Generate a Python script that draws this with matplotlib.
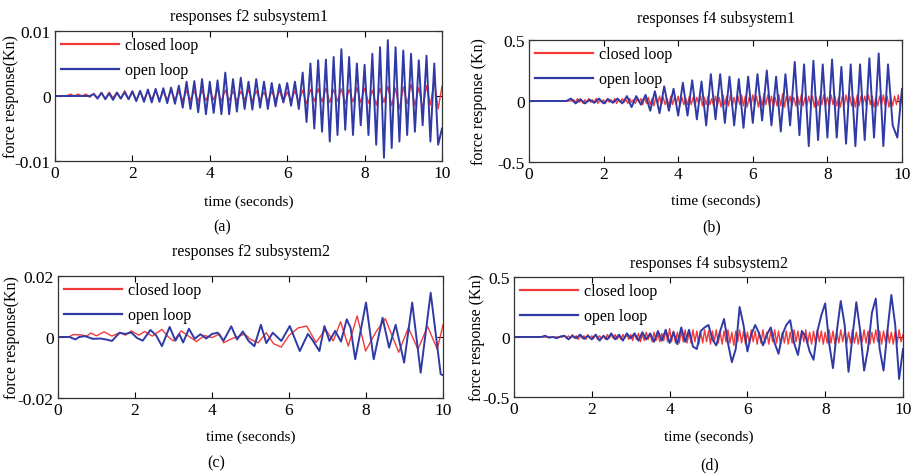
import numpy as np
import matplotlib.pyplot as plt

plt.rcParams['font.family'] = ['Liberation Serif', 'DejaVu Serif']

RED = '#f23a3a'
BLUE = '#2f3aa6'

# sample times (s) of the stored records
t_01 = np.round(np.arange(0, 101) * 0.1, 3)
t_0125 = np.arange(0, 81) * 0.125
t_005 = np.round(np.arange(0, 201) * 0.05, 3)

# f2 subsystem1, values in units of 1e-3 kN, one sample every 0.1 s
a_closed = [0, 0, 0, 0, 0.3, 0, 0.3, 0, 0.3, -0.2,
            0.4, -0.3, 0.5, -0.4, 0.6, -0.3, 0.6, -0.4, 0.8, -0.5,
            0.8, -0.6, 0.7, -0.6, 0.8, -0.5, 0.8, -0.6, 0.7, -0.6,
            0.9, -0.6, 0.7, -0.7, 0.8, -0.6, 0.8, -0.8, 0.9, -0.7,
            0.8, -0.6, 1.0, -0.8, 0.9, -0.7, 0.8, -0.8, 0.7, -0.6,
            0.9, -0.8, 0.8, -0.7, 0.6, -0.8, 0.7, -0.6, 0.8, -0.9,
            0.6, -0.7, 0.8, -1.0, 0.9, -1.2, 1.0, -0.8, 1.1, -0.9,
            1.2, -1.0, 1.0, -0.8, 1.1, -1.2, 1.0, -0.9, 1.3, -1.0,
            1.2, -1.1, 0.9, -1.4, 1.2, -1.0, 1.5, -1.5, 1.2, -2.0,
            1.4, -1.2, 1.8, -1.5, 1.3, -2.0, 1.6, -1.4, 2.5, -2.0, 1.5]
a_open = [0, 0, 0, 0, 0, 0, 0, 0, 0, 0,
          0.3, -0.4, 0.5, -0.5, 0.4, -0.6, 0.5, -0.4, 0.6, -0.5,
          0.7, -0.8, 0.8, -0.9, 1.0, -1.0, 1.1, -0.9, 1.2, -1.1,
          1.3, -1.2, 1.6, -1.8, 2.2, -2.0, 2.3, -2.5, 2.6, -2.8,
          2.2, -2.6, 2.4, -2.8, 3.6, -2.8, 2.6, -2.4, 2.8, -2.0,
          2.2, -2.1, 2.6, -1.8, 2.2, -2.0, 2.0, -1.6, 1.8, -1.0,
          2.0, -1.5, 2.2, -2.0, 3.6, -4.0, 5.0, -5.0, 5.5, -5.5,
          5.6, -7.0, 6.0, -6.0, 7.2, -5.2, 6.0, -6.0, 5.0, -4.5,
          4.8, -6.0, 6.5, -7.5, 7.5, -9.5, 8.6, -8.0, 7.5, -7.0,
          7.0, -6.0, 6.5, -5.5, 5.5, -4.5, 6.2, -7.0, 5.0, -7.5, -5.0]

# f4 subsystem1: closed loop in 1e-2 kN every 0.05 s, open loop in kN every 0.125 s
b_closed = ([0] * 24 +
            [1, -1, 2, -1, 1, -2, 1, -1, 2, -1, 1, -1, 2, -2, 1, -1, 1, -2,
             2, -1, 1, -1, 2, -2, 1, -1, 2, -1, 1, -2, 2, -1, 1, -2, 2, -1] +
            [2, -3, 3, -2, 3, -3, 2, -4, 3, -2, 4, -3, 3, -3, 2, -4, 4, -3, 3, -2,
             4, -4, 3, -3, 2, -3, 4, -3, 3, -4, 3, -2, 4, -4, 3, -3, 4, -3, 2, -4] +
            [4, -4, 3, -5, 5, -3, 4, -4, 5, -4, 3, -5, 4, -3, 5, -4, 4, -5, 3, -4,
             5, -3, 4, -5, 4, -4, 6, -3, 5, -4, 4, -5, 3, -4, 5, -4, 6, -5, 4, -3] +
            [4, -4, 3, -4, 4, -3, 5, -4, 3, -4, 4, -3, 4, -5, 3, -4, 4, -3, 5, -4,
             3, -4, 5, -3, 4, -4, 3, -5, 4, -4, 5, -3, 4, -4, 3, -5, 5, -4, 4, -3] +
            [4, -4, 5, -3, 4, -5, 3, -4, 4, -3, 5, -4, 4, -5, 3, -4, 4, -3, 5, -4, 2])
b_open = [0, 0, 0, 0, 0, 0, 0, 0, 0,
          0.02, -0.02, 0.015, -0.02, 0.01, -0.015, 0.02, -0.02,
          0.015, -0.015, 0.02, -0.02, 0.04, -0.05, 0.04, -0.03,
          0.05, -0.08, 0.08, -0.1, 0.12, -0.08, 0.1, -0.12,
          0.15, -0.12, 0.17, -0.15, 0.16, -0.2, 0.22, -0.15,
          0.22, -0.18, 0.2, -0.2, 0.18, -0.22, 0.2, -0.18,
          0.22, -0.16, 0.25, -0.2, 0.2, -0.25, 0.22, -0.2,
          0.32, -0.28, 0.3, -0.37, 0.33, -0.32, 0.3, -0.3,
          0.34, -0.3, 0.28, -0.35, 0.3, -0.37, 0.3, -0.32,
          0.35, -0.3, 0.39, -0.37, 0.3, -0.2, -0.3, 0.1]

# f2 subsystem2, turning points (s, 1e-3 kN)
c_closed_t = [0, 0.28, 0.4, 0.6, 0.75, 0.85, 1.0, 1.2, 1.4, 1.6, 1.75, 1.9, 2.1, 2.25,
              2.45, 2.7, 2.85, 3.0, 3.2, 3.4, 3.6, 3.8, 4.0, 4.2, 4.3, 4.5, 4.7, 4.85,
              5.0, 5.2, 5.41, 5.6, 5.8, 6.0, 6.24, 6.46, 6.7, 6.95, 7.15, 7.34, 7.54,
              7.77, 7.99, 8.25, 8.5, 8.85, 9.1, 9.35, 9.6, 9.85, 10.0]
c_closed_v = [0, 0, 0.8, 0.7, 0.3, 1.3, 0.4, 1.7, 0.3, 1.4, 0.6, 2.0, 0.6, 1.8,
              0.3, 2.5, 0.2, -1.3, 2.0, 0.2, -1.5, 0.5, -0.2, 1.0, -1.9, -0.6, 0.2, 1.0,
              -0.8, -1.9, 1.4, -2.2, -3.3, 0.5, 3.0, 3.6, -1.8, 2.5, -1.3, 5.0, -3.0,
              6.9, -4.6, 1.5, 6.0, -5.0, 3.0, -4.0, 3.5, -4.0, 4.0]
c_open_t = [0, 0.3, 0.45, 0.55, 0.7, 0.9, 1.1, 1.25, 1.4, 1.6, 1.75, 1.9, 2.05, 2.2,
            2.4, 2.55, 2.7, 2.9, 3.05, 3.15, 3.25, 3.4, 3.55, 3.7, 3.85, 4.0, 4.15,
            4.3, 4.5, 4.65, 4.8, 4.95, 5.1, 5.27, 5.41, 5.58, 5.8, 6.02, 6.28, 6.49,
            6.6, 6.79, 6.92, 7.05, 7.2, 7.35, 7.5, 7.6, 7.72, 8.0, 8.2, 8.43, 8.6,
            8.77, 8.99, 9.2, 9.42, 9.68, 9.94, 10.0]
c_open_v = [0, 0, -0.8, 0, 0.3, -0.6, -0.5, -0.8, -1.3, 1.4, 1.0, 1.5, -0.3, -1.2,
            2.3, 0.5, -3.0, 3.3, -1.2, 1.0, -1.8, 2.7, -0.6, 0.9, -0.5, 1.0, 1.4,
            -1.2, 3.5, -0.8, 1.8, -1.3, -3.0, 4.0, -2.0, 1.4, -1.3, 3.6, -4.6, 1.0,
            -0.8, -4.6, 3.6, -1.3, 2.0, -1.5, 5.8, 3.0, -7.3, 11.3, -7.3, 6.3, -3.5,
            4.0, -8.4, 11.3, -11.7, 14.5, -12.2, -12.5]

# f4 subsystem2: closed loop in 1e-2 kN every 0.05 s, open loop in kN every 0.1 s
d_closed = ([0] * 26 +
            [1, -1, 1, -1, 2, -1, 1, -2, 1, -1, 1, -2, 2, -1, 1, -1, 2,
             -2, 1, -1, 1, -2, 2, -1, 2, -1, 2, -2, 1, -2, 2, -1, 2, -2] +
            [2, -3, 3, -2, 3, -4, 2, -3, 4, -2, 3, -4, 4, -3, 2, -4, 3, -3, 5, -4,
             7, -4, 5, -5, 4, -5, 5, -4, 6, -5, 4, -5, 6, -4, 5, -6, 4, -5, 6, -4] +
            [5, -6, 5, -4, 6, -5, 4, -6, 5, -4, 6, -5, 4, -7, 5, -4, 6, -5, 5, -6,
             4, -5, 6, -4, 5, -6, 4, -5, 6, -5, 4, -6, 5, -4, 6, -5, 5, -6, 4, -5] +
            [5, -6, 4, -5, 6, -4, 5, -6, 5, -4, 6, -5, 4, -6, 5, -5, 6, -4, 5, -6,
             4, -5, 6, -5, 5, -6, 4, -5, 6, -4, 5, -6, 4, -5, 6, -5, 4, -6, 5, -4] +
            [6, -5, 5, -6, 4, -5, 6, -4, 5, -6, 5, -4, 6, -5, 4, -6, 5, -5, 6, -4, 2])
d_open = [0, 0, 0, 0, 0, 0, 0, 0,
          0.01, -0.005, 0, -0.01, 0.005, 0.01, -0.02, 0.01, -0.01, 0.02, -0.015, 0.01,
          -0.02, 0.02, -0.03, 0.01, -0.02, 0.03, -0.02, 0.02, -0.03, 0.03,
          -0.01, 0.03, -0.03, 0.04, -0.02, 0.03, -0.04, 0.05, -0.03, 0.06,
          -0.05, 0.04, -0.06, 0.08, -0.04, 0.06, -0.08, -0.1, 0.05, 0.08,
          0.1, -0.02, -0.07, 0.05, 0.15, -0.05, -0.21, -0.1, 0.25, 0.1,
          -0.12, 0.02, 0.1, 0.03, -0.07, 0.02, 0.08, -0.05, -0.14, 0.02,
          0.1, 0.14, -0.05, -0.15, 0.05, 0.0, -0.12, -0.19, 0.05, 0.18,
          0.28, -0.05, -0.26, 0.05, 0.3, 0.1, -0.29, 0.0, 0.29, 0.05,
          -0.28, -0.1, 0.2, 0.32, -0.1, -0.28, 0.05, 0.35, 0.1, -0.35, -0.1]


def draw_panel(ax, t_c, v_c, t_o, v_o, lim, ticklabels, title, title_pad,
               ylabel, ylabel_x, xlabel_y, letter, letter_xy):
    ax.plot(t_c, v_c, color=RED, lw=1.0, label='closed loop')
    ax.plot(t_o, v_o, color=BLUE, lw=1.4, label='open loop')
    ax.set_xlim(0, 10)
    ax.set_ylim(-lim, lim)
    ax.set_xticks(range(0, 11, 2))
    ax.set_yticks([-lim, 0, lim])
    ax.set_yticklabels(ticklabels)
    ax.tick_params(direction='in', top=True, right=True, length=4, width=0.8,
                   labelsize=12.5, pad=3)
    for s in ax.spines.values():
        s.set_linewidth(0.9)
        s.set_color('#333333')
    ax.set_title(title, fontsize=11.5, pad=title_pad)
    ax.set_xlabel('time (seconds)', fontsize=11)
    ax.set_ylabel(ylabel, fontsize=11.5)
    ax.yaxis.set_label_coords(ylabel_x, 0.5)
    ax.xaxis.set_label_coords(0.5, xlabel_y)
    leg = ax.legend(loc='upper left', frameon=False, fontsize=11.5,
                    handlelength=3.6, handletextpad=0.4, labelspacing=0.55,
                    borderaxespad=0.3, borderpad=0.1)
    for line in leg.get_lines():
        line.set_linewidth(1.6)
    fig.text(letter_xy[0] / 913, 1 - letter_xy[1] / 477, letter, fontsize=11.5,
             ha='center', va='center')


fig = plt.figure(figsize=(9.13, 4.77), dpi=100)
ax_a = fig.add_axes([55 / 913, 1 - 162 / 477, 387 / 913, 130 / 477])
ax_b = fig.add_axes([529 / 913, 1 - 163 / 477, 373 / 913, 122 / 477])
ax_c = fig.add_axes([58 / 913, 1 - 399 / 477, 385 / 913, 122 / 477])
ax_d = fig.add_axes([514 / 913, 1 - 398 / 477, 389 / 913, 120 / 477])

draw_panel(ax_a, t_01, np.array(a_closed) * 1e-3, t_01, np.array(a_open) * 1e-3,
           0.01, ['-0.01', '0', '0.01'], 'responses f2 subsystem1', 8,
           'force response(Kn)', -0.093, -0.254, '(a)', (222, 227))
draw_panel(ax_b, t_005, np.array(b_closed) * 1e-2, t_0125, b_open,
           0.5, ['-0.5', '0', '0.5'], 'responses f4 subsystem1', 13,
           'force response (Kn)', -0.113, -0.262, '(b)', (712, 227))
draw_panel(ax_c, c_closed_t, np.array(c_closed_v) * 1e-3,
           c_open_t, np.array(c_open_v) * 1e-3,
           0.02, ['-0.02', '0', '0.02'], 'responses f2 subsystem2', 15,
           'force response(Kn)', -0.099, -0.262, '(c)', (216, 463))
draw_panel(ax_d, t_005, np.array(d_closed) * 1e-2, t_01, d_open,
           0.5, ['-0.5', '0', '0.5'], 'responses f4 subsystem2', 7,
           'force response (Kn)', -0.075, -0.267, '(d)', (710, 465))

fig.savefig('out.png', dpi=100)
